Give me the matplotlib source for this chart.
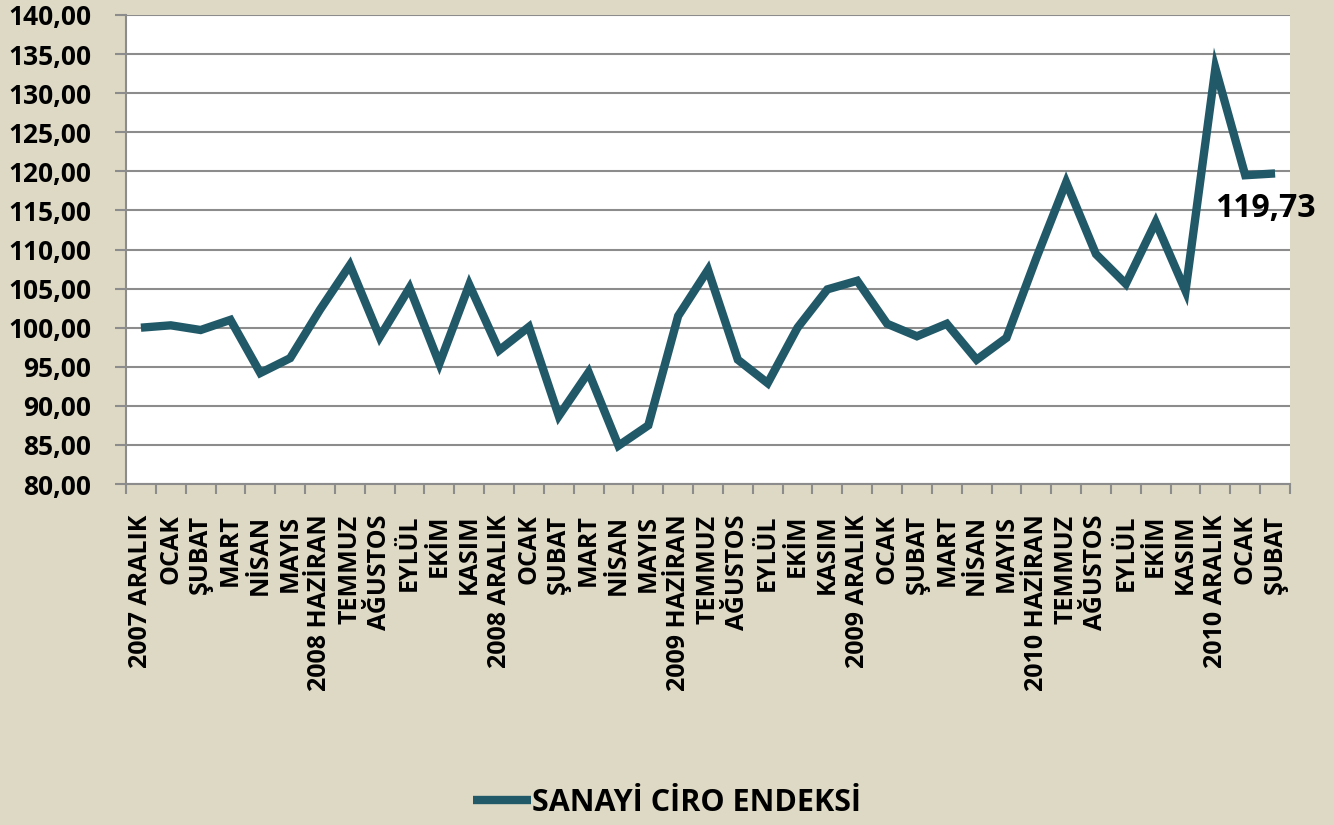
import matplotlib.pyplot as plt
import numpy as np

months = ['2007 ARALIK', 'OCAK', 'ŞUBAT', 'MART', 'NİSAN', 'MAYIS',
          '2008 HAZİRAN', 'TEMMUZ', 'AĞUSTOS', 'EYLÜL', 'EKİM', 'KASIM',
          '2008 ARALIK', 'OCAK', 'ŞUBAT', 'MART', 'NİSAN', 'MAYIS',
          '2009 HAZİRAN', 'TEMMUZ', 'AĞUSTOS', 'EYLÜL', 'EKİM', 'KASIM',
          '2009 ARALIK', 'OCAK', 'ŞUBAT', 'MART', 'NİSAN', 'MAYIS',
          '2010 HAZİRAN', 'TEMMUZ', 'AĞUSTOS', 'EYLÜL', 'EKİM', 'KASIM',
          '2010 ARALIK', 'OCAK', 'ŞUBAT']
ciro = [100.0, 100.3, 99.7, 101.0, 94.2, 96.1,
        102.3, 108.0, 98.8, 105.1, 95.4, 105.5,
        97.1, 100.1, 88.7, 94.3, 84.9, 87.5,
        101.5, 107.4, 95.9, 92.9, 100.0, 104.9,
        106.0, 100.5, 98.9, 100.5, 95.9, 98.7,
        108.9, 118.6, 109.4, 105.6, 113.5, 104.7,
        133.2, 119.5, 119.73]

bg = '#DDD9C4'
line_color = '#215968'
grid_color = '#8C8C8C'
plt.rcParams['font.family'] = ['Open Sans', 'DejaVu Sans']
plt.rcParams['font.weight'] = 'bold'

fig = plt.figure(figsize=(13.34, 8.25), dpi=100, facecolor=bg)
ax = fig.add_axes([126 / 1334, 1 - 484 / 825, 1164 / 1334, 469 / 825])
ax.set_facecolor('white')

x = np.arange(len(months))
ax.plot(x, ciro, color=line_color, lw=6, solid_joinstyle='miter',
        solid_capstyle='butt', label='SANAYİ CİRO ENDEKSİ', zorder=3)

ax.set_xlim(-0.5, len(months) - 0.5)
ax.set_ylim(80, 140)
ax.set_yticks(np.arange(80, 141, 5))
ax.set_yticklabels([f'{v:.2f}'.replace('.', ',') for v in np.arange(80, 141, 5)],
                   fontsize=19, fontweight='bold')
ax.yaxis.grid(True, color=grid_color, lw=1.5)
ax.set_axisbelow(True)

ax.set_xticks(x)
ax.set_xticklabels(months, rotation=90, fontsize=18, fontweight='bold', va='top')
ax.set_xticks(np.arange(-0.5, len(months), 1), minor=True)
ax.tick_params(axis='x', which='major', length=0, pad=22)
ax.tick_params(axis='x', which='minor', length=7, color=grid_color, width=1.5)
ax.tick_params(axis='y', length=8, color=grid_color, width=1.5, pad=17)

for s in ['top', 'right']:
    ax.spines[s].set_visible(False)
for s in ['left', 'bottom']:
    ax.spines[s].set_color(grid_color)
    ax.spines[s].set_linewidth(1.5)

# etiket: son değer
last = len(ciro) - 1
ax.annotate(f'{ciro[last]:.2f}'.replace('.', ','), (x[last], ciro[last]),
            xytext=(-60, -35), textcoords='offset pixels', ha='left', va='center',
            fontsize=23, fontweight='bold', annotation_clip=False, zorder=4)

leg = fig.legend(loc='center', bbox_to_anchor=(0.5, 1 - 803 / 825), frameon=False,
                 fontsize=22, handlelength=1.9, handletextpad=0.05)
for t in leg.get_texts():
    t.set_fontweight('bold')

fig.savefig('out.png', dpi=100, facecolor=bg)
